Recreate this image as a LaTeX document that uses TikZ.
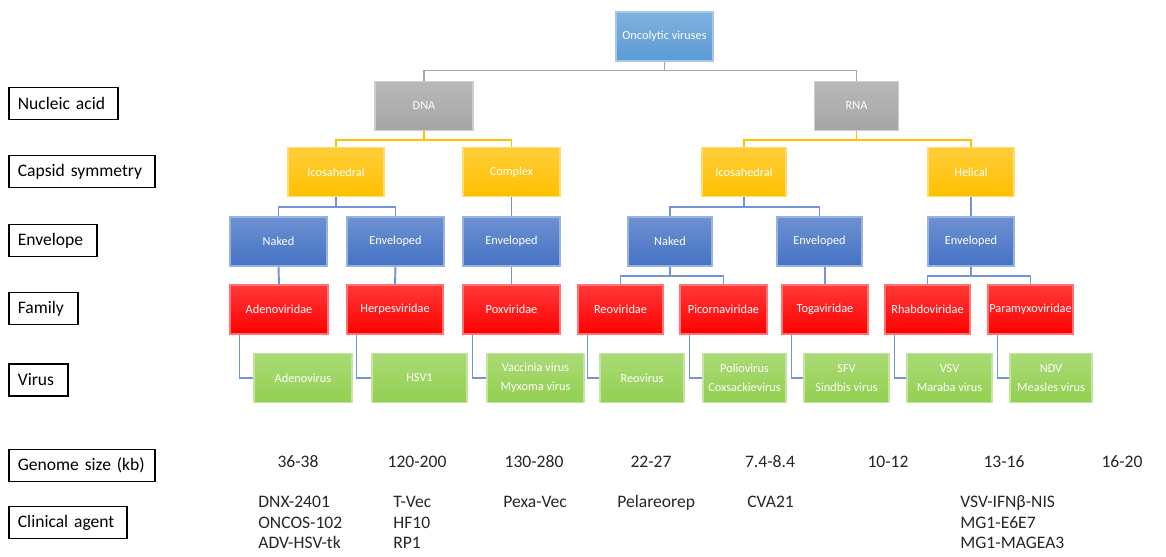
\documentclass[tikz,border=0pt]{standalone}
\usepackage{fontspec}
\setmainfont{Carlito}
\usetikzlibrary{calc}

\definecolor{topblue}{HTML}{5B9BD5}
\definecolor{acidgray}{HTML}{A5A5A5}
\definecolor{capyellow}{HTML}{FFC000}
\definecolor{envblue}{HTML}{4472C4}
\definecolor{famred}{HTML}{FF0000}
\definecolor{virgreen}{HTML}{92D050}
\definecolor{linkblue}{HTML}{7395D8}

\tikzset{
  box/.style={rectangle, inner sep=0pt, minimum height=0.98cm, align=center,
    text=white, font=\fontsize{7}{11}\selectfont,
    draw=#1!55!white, line width=0.6pt, top color=#1!78!white, bottom color=#1},
  tag/.style={draw, line width=1pt, anchor=west, inner xsep=0.18cm,
    minimum height=0.64cm, text width=#1, font=\fontsize{10}{12}\selectfont},
  link/.style={draw=#1, line width=1.1pt},
  info/.style={font=\fontsize{10}{11.7}\selectfont, text=black!85, inner sep=0pt},
  agent/.style={info, anchor=north west, align=left}
}

\begin{document}
\begin{tikzpicture}[x=0.02cm, y=-0.02cm]
	\useasboundingbox (0,0) rectangle (1166,556);

	% row labels
	\node[tag=1.82cm] (lacid) at (8,103.5) {Nucleic acid};
	\node[tag=2.56cm] (lcapsid) at (8,171.5) {Capsid symmetry};
	\node[tag=1.40cm] (lenv) at (8,240.5) {Envelope};
	\node[tag=1.02cm] (lfam) at (8,308.5) {Family};
	\node[tag=0.82cm] (lvirus) at (8,380) {Virus};
	\node[tag=2.56cm] (lgenome) at (8,465.5) {Genome size (kb)};
	\node[tag=2.00cm] (lagent) at (8,522.5) {Clinical agent};

	% root
	\node[box=topblue, minimum width=1.94cm] (onco) at (664.5,36.5) {Oncolytic viruses};

	% nucleic acid
	\node[box=acidgray, minimum width=1.96cm] (dna) at (424,106) {DNA};
	\node[box=acidgray, minimum width=1.68cm] (rna) at (856.5,106) {RNA};

	% capsid symmetry
	\node[box=capyellow, minimum width=1.92cm] (dnaico) at (336,172) {Icosahedral};
	\node[box=capyellow, minimum width=1.94cm] (complex) at (511.5,172) {Complex};
	\node[box=capyellow, minimum width=1.68cm] (rnaico) at (744,172) {Icosahedral};
	\node[box=capyellow, minimum width=1.72cm] (helical) at (971,172) {Helical};

	% envelope
	\node[box=envblue, minimum width=1.94cm] (dnanaked) at (278.5,241.5) {Naked};
	\node[box=envblue, minimum width=1.94cm] (dnaenvA) at (395.5,241.5) {Enveloped};
	\node[box=envblue, minimum width=1.94cm] (dnaenvB) at (511.5,241.5) {Enveloped};
	\node[box=envblue, minimum width=1.68cm] (rnanaked) at (670,241.5) {Naked};
	\node[box=envblue, minimum width=1.70cm] (rnaenvA) at (819.5,241.5) {Enveloped};
	\node[box=envblue, minimum width=1.72cm] (rnaenvB) at (971,241.5) {Enveloped};

	% family
	\node[box=famred, minimum width=1.96cm] (adenofam) at (279,309.5) {Adenoviridae};
	\node[box=famred, minimum width=1.92cm] (herpesfam) at (395,309.5) {Herpesviridae};
	\node[box=famred, minimum width=1.94cm] (poxfam) at (511.5,309.5) {Poxviridae};
	\node[box=famred, minimum width=1.70cm] (reofam) at (620.5,309.5) {Reoviridae};
	\node[box=famred, minimum width=1.74cm] (picornafam) at (723.5,309.5) {Picornaviridae};
	\node[box=famred, minimum width=1.72cm] (togafam) at (825,309.5) {Togaviridae};
	\node[box=famred, minimum width=1.70cm] (rhabdofam) at (927.5,309.5) {Rhabdoviridae};
	\node[box=famred, minimum width=1.70cm] (paramyxofam) at (1030.5,309.5) {Paramyxoviridae};

	% virus
	\node[box=virgreen, minimum width=1.96cm] (adeno) at (303,378) {Adenovirus};
	\node[box=virgreen, minimum width=1.90cm] (hsv) at (419.5,378) {HSV1};
	\node[box=virgreen, minimum width=1.94cm] (vaccinia) at (535.5,378) {Vaccinia virus\\Myxoma virus};
	\node[box=virgreen, minimum width=1.68cm] (reo) at (642,378) {Reovirus};
	\node[box=virgreen, minimum width=1.66cm] (polio) at (744.5,378) {Poliovirus\\Coxsackievirus};
	\node[box=virgreen, minimum width=1.70cm] (sfv) at (846.5,378) {SFV\\Sindbis virus};
	\node[box=virgreen, minimum width=1.70cm] (vsv) at (949.5,378) {VSV\\Maraba virus};
	\node[box=virgreen, minimum width=1.64cm] (ndv) at (1051,378) {NDV\\Measles virus};

	% links: nucleic acid
	\draw[link=acidgray] (onco.south) -- ++(0,9) -| (dna.north);
	\draw[link=acidgray] (onco.south) -- ++(0,9) -| (rna.north);

	% links: capsid symmetry
	\draw[link=capyellow] (dna.south) -- ++(0,9) -| (dnaico.north);
	\draw[link=capyellow] (dna.south) -- ++(0,9) -| (complex.north);
	\draw[link=capyellow] (rna.south) -- ++(0,9) -| (rnaico.north);
	\draw[link=capyellow] (rna.south) -- ++(0,9) -| (helical.north);

	% links: envelope
	\draw[link=linkblue] (dnaico.south) -- ++(0,10) -| (dnanaked.north);
	\draw[link=linkblue] (dnaico.south) -- ++(0,10) -| (dnaenvA.north);
	\draw[link=linkblue] (complex.south) -- (dnaenvB.north);
	\draw[link=linkblue] (rnaico.south) -- ++(0,10) -| (rnanaked.north);
	\draw[link=linkblue] (rnaico.south) -- ++(0,10) -| (rnaenvA.north);
	\draw[link=linkblue] (helical.south) -- (rnaenvB.north);

	% links: family
	\draw[link=linkblue] (dnanaked.south) -- (adenofam.north);
	\draw[link=linkblue] (dnaenvA.south) -- (herpesfam.north);
	\draw[link=linkblue] (dnaenvB.south) -- (poxfam.north);
	\draw[link=linkblue] (rnanaked.south) -- ++(0,9) -| (reofam.north);
	\draw[link=linkblue] (rnanaked.south) -- ++(0,9) -| (picornafam.north);
	\draw[link=linkblue] (rnaenvA.south -| togafam.north) -- (togafam.north);
	\draw[link=linkblue] (rnaenvB.south) -- ++(0,9) -| (rhabdofam.north);
	\draw[link=linkblue] (rnaenvB.south) -- ++(0,9) -| (paramyxofam.north);

	% links: virus
	\draw[link=linkblue] ([xshift=0.2cm]adenofam.south west) |- (adeno.west);
	\draw[link=linkblue] ([xshift=0.2cm]herpesfam.south west) |- (hsv.west);
	\draw[link=linkblue] ([xshift=0.2cm]poxfam.south west) |- (vaccinia.west);
	\draw[link=linkblue] ([xshift=0.2cm]reofam.south west) |- (reo.west);
	\draw[link=linkblue] ([xshift=0.2cm]picornafam.south west) |- (polio.west);
	\draw[link=linkblue] ([xshift=0.2cm]togafam.south west) |- (sfv.west);
	\draw[link=linkblue] ([xshift=0.2cm]rhabdofam.south west) |- (vsv.west);
	\draw[link=linkblue] ([xshift=0.2cm]paramyxofam.south west) |- (ndv.west);

	% genome sizes
	\node[info] (gadeno) at (298,462) {36-38};
	\node[info] (gherpes) at (417,462) {120-200};
	\node[info] (gpox) at (534,462) {130-280};
	\node[info] (greo) at (651,462) {22-27};
	\node[info] (gpicorna) at (770,462) {7.4-8.4};
	\node[info] (gtoga) at (888,462) {10-12};
	\node[info] (grhabdo) at (1004,462) {13-16};
	\node[info] (gparamyxo) at (1122,462) {16-20};

	% clinical agents
	\node[agent] (cadeno) at (258,493) {\strut DNX-2401\\ONCOS-102\\ADV-HSV-tk};
	\node[agent] (cherpes) at (393,493) {\strut T-Vec\\HF10\\RP1};
	\node[agent] (cpox) at (503,493) {\strut Pexa-Vec};
	\node[agent] (creo) at (617,493) {\strut Pelareorep};
	\node[agent] (cpicorna) at (747,493) {\strut CVA21};
	\node[agent] (crhabdo) at (960,493) {\strut VSV-IFNβ-NIS\\MG1-E6E7\\MG1-MAGEA3};
\end{tikzpicture}
\end{document}
